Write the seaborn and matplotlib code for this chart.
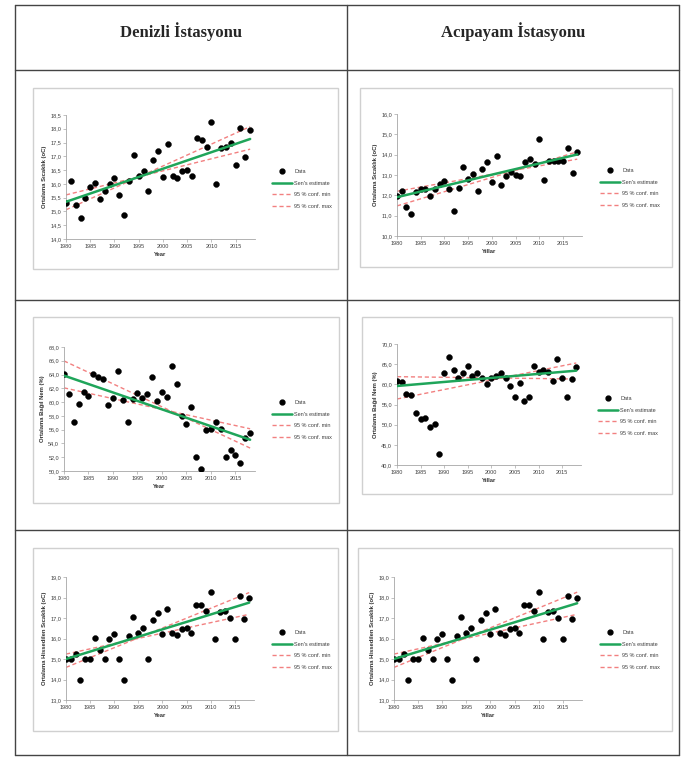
import numpy as np
import pandas as pd
import matplotlib
matplotlib.use("Agg")
import matplotlib.pyplot as plt
import seaborn as sns
from matplotlib.lines import Line2D
from matplotlib.patches import Rectangle
from matplotlib.ticker import FuncFormatter, MultipleLocator

sns.set_theme(style="white")
plt.rcParams['font.family'] = ['Liberation Sans', 'DejaVu Sans']

# ---------------- data ----------------
years = list(range(1980, 2019))
trend_years = [1980, 2018]

den_temp = [15.31, 16.10, 15.24, 14.75, 15.50, 15.87, 16.03, 15.46, 15.75, 15.98,
            16.23, 15.60, 14.86, 16.11, 17.05, 16.29, 16.47, 15.74, 16.87, 17.21,
            16.24, 17.45, 16.27, 16.22, 16.46, 16.50, 16.27, 17.66, 17.59, 17.35,
            18.25, 16.01, 17.29, 17.33, 17.49, 16.69, 18.04, 16.97, 17.96]
den_temp_sen = [15.35, 17.63]
den_temp_min = [15.60, 17.26]
den_temp_max = [15.06, 18.08]

aci_temp = [11.96, 12.19, 11.43, 11.07, 12.15, 12.29, 12.29, 11.96, 12.32, 12.55,
            12.70, 12.30, 11.22, 12.35, 13.37, 12.78, 13.06, 12.19, 13.30, 13.65,
            12.68, 13.91, 12.50, 12.94, 13.14, 13.02, 12.96, 13.65, 13.80, 13.52,
            14.77, 12.73, 13.67, 13.67, 13.67, 13.67, 14.34, 13.12, 14.11]
aci_temp_sen = [11.91, 14.01]
aci_temp_min = [12.20, 13.78]
aci_temp_max = [11.48, 14.14]

den_hum = [64.04, 61.20, 57.05, 59.70, 61.44, 60.86, 64.14, 63.71, 63.37, 59.65,
           60.62, 64.53, 60.33, 57.05, 60.52, 61.34, 60.62, 61.20, 63.66, 60.23,
           61.49, 60.81, 65.20, 62.64, 58.01, 56.81, 59.27, 52.03, 50.29, 55.98,
           56.08, 57.09, 56.03, 52.03, 53.04, 52.36, 51.21, 54.83, 55.50]
den_hum_sen = [63.85, 54.54]
den_hum_min = [65.98, 53.33]
den_hum_max = [62.07, 56.13]

aci_hum = [60.83, 60.58, 57.60, 57.27, 52.81, 51.49, 51.65, 49.34, 50.08, 42.73,
           62.81, 66.69, 63.64, 61.65, 62.81, 64.63, 62.07, 62.89, 61.65, 60.17,
           61.57, 62.15, 62.73, 61.65, 59.59, 56.78, 60.33, 55.79, 56.86, 64.46,
           63.14, 63.64, 63.14, 60.83, 66.36, 61.65, 56.78, 61.40, 64.21]
aci_hum_sen = [59.59, 63.39]
aci_hum_min = [61.90, 61.32]
aci_hum_max = [56.36, 65.29]

den_feel = [14.98, 14.98, 15.24, 13.99, 14.98, 14.98, 16.02, 15.46, 14.98, 15.97,
            16.23, 14.98, 13.99, 16.10, 17.07, 16.29, 16.49, 14.98, 16.88, 17.23,
            16.24, 17.44, 16.26, 16.19, 16.45, 16.49, 16.26, 17.65, 17.61, 17.36,
            18.27, 16.00, 17.28, 17.33, 16.99, 16.00, 18.08, 16.97, 17.96]
den_feel_sen = [15.00, 17.75]
den_feel_min = [15.24, 17.18]
den_feel_max = [14.59, 18.24]

aci_feel = list(den_feel)
aci_feel_sen = [15.00, 17.72]
aci_feel_min = [15.24, 17.18]
aci_feel_max = [14.59, 18.26]

station_titles = ["Denizli İstasyonu", "Acıpayam İstasyonu"]
ylabel_temp = "Ortalama Sıcaklık (oC)"
ylabel_hum = "Ortalama Bağıl Nem (%)"
ylabel_feel = "Ortalama Hissedilen Sıcaklık (oC)"
xlabel_left = "Year"
xlabel_right = "Yıllar"
legend_labels = ["Data", "Sen's estimate", "95 % conf. min", "95 % conf. max"]
xticks = [1980, 1985, 1990, 1995, 2000, 2005, 2010, 2015]

# ---------------- figure ----------------
W, H = 681, 758
fig = plt.figure(figsize=(W / 100, H / 100), dpi=100)
fig.patch.set_facecolor("white")


def rect(l, t, r, b):
    return [l / W, 1 - b / H, (r - l) / W, (b - t) / H]


# table lines
tcol = "#444444"
def hline(y, x0, x1, lw=1.0):
    fig.add_artist(Line2D([x0 / W, x1 / W], [1 - y / H, 1 - y / H], color=tcol, lw=lw,
                          transform=fig.transFigure))
def vline(x, y0, y1, lw=1.0):
    fig.add_artist(Line2D([x / W, x / W], [1 - y0 / H, 1 - y1 / H], color=tcol, lw=lw,
                          transform=fig.transFigure))

TL, TR, TT, TB = 15, 679, 5, 755
for y in [TT, 70, 300, 530, TB]:
    hline(y, TL, TR)
for x in [TL, 347, TR]:
    vline(x, TT, TB)

fig.text(181 / W, 1 - 32 / H, station_titles[0], ha="center", va="center",
         family="Liberation Serif", fontweight="bold", fontsize=12)
fig.text(513 / W, 1 - 32 / H, station_titles[1], ha="center", va="center",
         family="Liberation Serif", fontweight="bold", fontsize=12)

# chart frames
frames = [(33, 88, 338, 269), (360, 88, 672, 267),
          (33, 317, 339, 503), (362, 317, 672, 494),
          (33, 548, 338, 731), (358, 548, 672, 731)]
for (l, t, r, b) in frames:
    fig.add_artist(Rectangle((l / W, 1 - b / H), (r - l) / W, (b - t) / H,
                             transform=fig.transFigure, fill=False,
                             edgecolor="#d0d0d0", lw=1.0))

GREEN = "#1fa55a"
RED = "#f28080"

panels = [
    dict(box=(66, 115, 255, 239), y=den_temp, sen=den_temp_sen, mn=den_temp_min, mx=den_temp_max,
         ylim=(14.0, 18.5), step=0.5, ylabel=ylabel_temp, xlabel=xlabel_left, leg=(272, 189)),
    dict(box=(397, 114, 582, 236), y=aci_temp, sen=aci_temp_sen, mn=aci_temp_min, mx=aci_temp_max,
         ylim=(10.0, 16.0), step=1.0, ylabel=ylabel_temp, xlabel=xlabel_right, leg=(600, 188)),
    dict(box=(64, 347, 255, 471), y=den_hum, sen=den_hum_sen, mn=den_hum_min, mx=den_hum_max,
         ylim=(50.0, 68.0), step=2.0, ylabel=ylabel_hum, xlabel=xlabel_left, leg=(272, 420)),
    dict(box=(397, 344, 581, 465), y=aci_hum, sen=aci_hum_sen, mn=aci_hum_min, mx=aci_hum_max,
         ylim=(40.0, 70.0), step=5.0, ylabel=ylabel_hum, xlabel=xlabel_right, leg=(598, 416)),
    dict(box=(66, 577, 254, 700), y=den_feel, sen=den_feel_sen, mn=den_feel_min, mx=den_feel_max,
         ylim=(13.0, 19.0), step=1.0, ylabel=ylabel_feel, xlabel=xlabel_left, leg=(272, 650)),
    dict(box=(394, 577, 582, 700), y=aci_feel, sen=aci_feel_sen, mn=aci_feel_min, mx=aci_feel_max,
         ylim=(13.0, 19.0), step=1.0, ylabel=ylabel_feel, xlabel=xlabel_right, leg=(600, 650)),
]

fmt = FuncFormatter(lambda v, p: f"{v:.1f}".replace(".", ","))

for p in panels:
    ax = fig.add_axes(rect(*p["box"]))
    ax.set_facecolor("none")
    df = pd.DataFrame({"year": years, "value": p["y"]})
    tr = pd.DataFrame({"year": trend_years, "sen": p["sen"], "mn": p["mn"], "mx": p["mx"]})
    sns.lineplot(data=tr, x="year", y="mn", ax=ax, color=RED, lw=1.0, dashes=False,
                 linestyle=(0, (3, 2)), zorder=2)
    sns.lineplot(data=tr, x="year", y="mx", ax=ax, color=RED, lw=1.0, dashes=False,
                 linestyle=(0, (3, 2)), zorder=2)
    sns.scatterplot(data=df, x="year", y="value", ax=ax, color="black", s=18,
                    edgecolor="black", linewidth=0.3, zorder=3)
    sns.lineplot(data=tr, x="year", y="sen", ax=ax, color=GREEN, lw=1.8, zorder=4)

    ax.set_xlim(1980, 2019)
    ax.set_ylim(*p["ylim"])
    ax.set_xticks(xticks)
    ax.yaxis.set_major_locator(MultipleLocator(p["step"]))
    ax.yaxis.set_major_formatter(fmt)
    for s in ["top", "right"]:
        ax.spines[s].set_visible(False)
    for s in ["left", "bottom"]:
        ax.spines[s].set_color("#a6a6a6")
        ax.spines[s].set_linewidth(0.6)
    ax.tick_params(axis="both", labelsize=4, colors="#404040", length=2, width=0.5,
                   pad=1.5, direction="out", left=True, bottom=True)
    ax.tick_params(axis="both", color="#a6a6a6")
    ax.set_xlabel(p["xlabel"], fontsize=4.2, fontweight="bold", color="#303030", labelpad=2)
    ax.set_ylabel(p["ylabel"], fontsize=4.2, fontweight="bold", color="#303030", labelpad=2)

    handles = [
        Line2D([], [], color="black", marker="o", linestyle="none", markersize=3.5),
        Line2D([], [], color=GREEN, lw=1.8),
        Line2D([], [], color=RED, lw=1.0, linestyle=(0, (3, 2))),
        Line2D([], [], color=RED, lw=1.0, linestyle=(0, (3, 2))),
    ]
    lx, ly = p["leg"]
    leg = ax.legend(handles, legend_labels, loc="center left",
                    bbox_to_anchor=(lx / W, 1 - ly / H), bbox_transform=fig.transFigure,
                    frameon=False, fontsize=4, handlelength=3.6, handletextpad=0.4,
                    labelspacing=1.15, borderpad=0, borderaxespad=0)
    for t in leg.get_texts():
        t.set_color("#404040")

fig.savefig("out.png", dpi=100, facecolor="white")
